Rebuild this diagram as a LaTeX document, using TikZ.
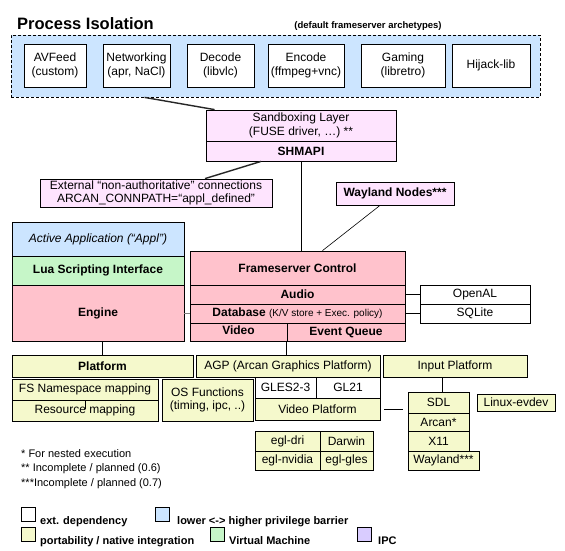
\documentclass[tikz,border=0pt]{standalone}
\usepackage{fontspec}
\setmainfont{Liberation Sans}
\newcommand\fsz[2]{\fontsize{#1}{#2}\selectfont}
\definecolor{blueF}{HTML}{CCE5FF}
\definecolor{ipcF}{HTML}{FEE4FE}
\definecolor{redF}{HTML}{FFC2CC}
\definecolor{greenF}{HTML}{C6F6C8}
\definecolor{yelF}{HTML}{F5F9CC}
\definecolor{purF}{HTML}{D9CCFF}
\newcommand\bx[7]{\node[bx,#6,minimum width={#4pt-#2pt},minimum height={#5pt-#3pt}] (#1) at ({(#2+#4)/2},{(#3+#5)/2}) {#7};}
\begin{document}
\begin{tikzpicture}[x=1pt,y=-1pt,
  bx/.style={draw=black,line width=0.8pt,inner sep=0pt,align=center,font=\fsz{12}{13.5}},
  bold/.style={font=\bfseries\fsz{12}{13.5}},
  sq/.style={draw=black,line width=0.8pt,minimum size=14pt,inner sep=0pt},
  lgt/.style={anchor=base west,inner sep=0pt,font=\bfseries\fsz{11}{13}},
  fnt/.style={anchor=west,inner sep=0pt,font=\fsz{11}{13}},
  conn/.style={draw=black,line width=0.8pt},
  thickconn/.style={draw=black!85,line width=1.4pt}]
\useasboundingbox (0,0) rectangle (565,550);
\fill[white] (0,0) rectangle (565,550);
% Process isolation
\node[anchor=west,inner sep=0pt,font=\bfseries\fsz{16.5}{18}] (title) at (17,24) {Process Isolation};
\node[inner sep=0pt,font=\bfseries\fsz{9.5}{11}] (arch) at (368,26) {(default frameserver archetypes)};
\bx{pi}{11}{35}{540}{97}{fill=blueF,dash pattern=on 3pt off 2pt}{}
\bx{avf}{24}{44}{86}{87}{fill=white}{AVFeed\\(custom)}
\bx{net}{103}{44}{170}{87}{fill=white}{Networking\\(apr, NaCl)}
\bx{dec}{187}{44}{254}{87}{fill=white}{Decode\\(libvlc)}
\bx{enc}{268}{44}{344}{87}{fill=white}{Encode\\(ffmpeg+vnc)}
\bx{gam}{361}{44}{445}{87}{fill=white}{Gaming\\(libretro)}
\bx{hij}{452}{44}{530}{87}{fill=white}{Hijack-lib}
% IPC
\bx{sbx}{206}{110}{396}{141}{fill=ipcF}{Sandboxing Layer\\(FUSE driver, …) **}
\bx{shm}{206}{141}{396}{161}{fill=ipcF,bold}{SHMAPI}
\bx{ext}{40}{179}{272}{207}{fill=ipcF}{External “non-authoritative” connections\\ARCAN\_CONNPATH=“appl\_defined”}
\bx{wn}{336}{182}{454}{205}{fill=ipcF,bold}{Wayland Nodes***}
% left stack
\bx{app}{12}{222}{184}{256}{fill=blueF,font=\itshape\fsz{12}{13.5}}{Active Application (“Appl”)}
\bx{lua}{12}{256}{184}{285}{fill=greenF,bold}{Lua Scripting Interface}
\bx{eng}{12}{285}{184}{341}{fill=redF,bold}{Engine}
% frameserver
\bx{fc}{190}{251}{405}{285}{fill=redF,bold}{Frameserver Control}
\bx{aud}{190}{285}{405}{304}{fill=redF,bold}{Audio}
\bx{db}{190}{304}{405}{323}{fill=redF}{\textbf{Database} {\fsz{10}{12}(K/V store + Exec. policy)}}
\bx{vid}{190}{323}{287}{341}{fill=redF,bold}{\raisebox{3pt}{Video}}
\bx{eq}{287}{323}{405}{341}{fill=redF,bold}{Event Queue}
\bx{oal}{420}{285}{530}{304}{fill=white}{OpenAL}
\bx{sql}{420}{304}{530}{323}{fill=white}{SQLite}
% platform
\bx{plat}{12}{355}{193}{377}{fill=yelF,bold}{Platform}
\bx{agp}{196}{355}{380}{377}{fill=yelF}{AGP (Arcan Graphics Platform)}
\bx{inp}{383}{355}{527}{377}{fill=yelF}{Input Platform}
\bx{fsn}{12}{379}{158}{400}{fill=yelF}{FS Namespace mapping}
\bx{res}{12}{400}{158}{421}{fill=yelF}{Resource mapping}
\bx{osf}{162}{379}{253}{421}{fill=yelF}{OS Functions\\(timing, ipc, ..)}
\bx{gles}{255}{377}{316}{398}{fill=white}{GLES2-3}
\bx{gl}{316}{377}{380}{398}{fill=white}{GL21}
\bx{vp}{255}{398}{380}{420}{fill=yelF}{Video Platform}
\bx{sdl}{408}{392}{469}{413}{fill=yelF}{SDL}
\bx{arc}{408}{413}{469}{431}{fill=yelF}{Arcan*}
\bx{x11}{408}{431}{469}{451}{fill=yelF}{X11}
\bx{wl}{408}{451}{479}{470}{fill=yelF}{Wayland***}
\bx{evd}{477}{394}{555}{411}{fill=yelF}{Linux-evdev}
\bx{egd}{255}{431}{320}{451}{fill=yelF}{egl-dri}
\bx{dar}{320}{431}{373}{451}{fill=yelF}{Darwin}
\bx{egn}{255}{451}{320}{470}{fill=yelF}{egl-nvidia}
\bx{egg}{320}{451}{373}{470}{fill=yelF}{egl-gles}
% connectors
\draw[thickconn] ([xshift=134pt]pi.south west) -- ([xshift=9pt]sbx.north west);
\draw[thickconn] ([xshift=-40pt]shm.south) -- ([xshift=49pt]ext.north);
\draw[conn] (shm.south) -- (shm.south |- fc.north);
\draw[conn,line width=0.6pt] ([xshift=-15pt]wn.south) -- ([xshift=25pt]fc.north);
\draw[draw=black!50,line width=0.8pt] (db.west -| eng.east) -- (db.west);
\draw[conn] (aud.east) -- (oal.west);
\draw[conn] (db.east) -- (sql.west);
\draw[conn] (plat.north) -- (plat.north |- eng.south);
\draw[conn] (eq.south west) -- (eq.south west |- agp.north);
\draw[conn] ([xshift=74pt]fsn.south west) -- ++(0,9);
\draw[conn] ([xshift=4pt]vp.east) -- ([xshift=-5pt]vp.east -| sdl.west);
\draw[conn] ([xshift=4pt]sdl.north) -- ([xshift=4pt]sdl.north |- inp.south);
% footnotes
\node[fnt] (fn1) at (21,454) {* For nested execution};
\node[fnt] (fn2) at (21,469) {** Incomplete / planned (0.6)};
\node[fnt] (fn3) at (21,484) {***Incomplete / planned (0.7)};
% legend
\node[sq,fill=white] (lg1) at (28,514) {};
\node[lgt] (lt1) at (40,524) {ext. dependency};
\node[sq,fill=blueF] (lg2) at (162,514) {};
\node[lgt] (lt2) at (177,524) {lower <-> higher privilege barrier};
\node[sq,fill=yelF] (lg3) at (28,534) {};
\node[lgt] (lt3) at (40,544) {portability / native integration};
\node[sq,fill=greenF] (lg4) at (217,534) {};
\node[lgt] (lt4) at (229,544) {Virtual Machine};
\node[sq,fill=purF] (lg5) at (364,534) {};
\node[lgt] (lt5) at (378,544) {IPC};
\end{tikzpicture}
\end{document}
